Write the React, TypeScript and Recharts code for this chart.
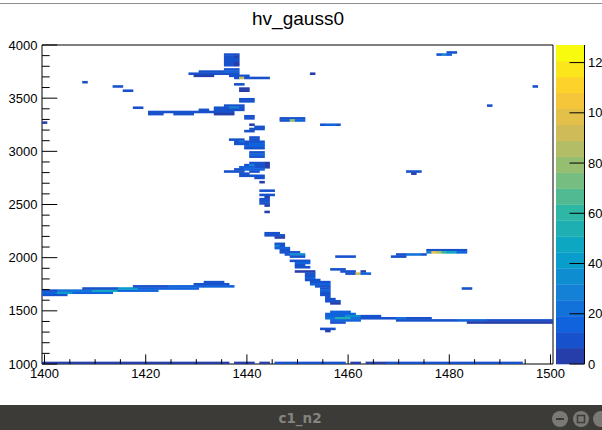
import React from 'react';
import { ScatterChart, Scatter, XAxis, YAxis, ReferenceArea } from 'recharts';

// ---------- layout / axis constants ----------
const W = 602;
const H = 430;
const PLOT = { left: 42, top: 45, right: 553, bottom: 364 };
const X_MIN = 1399.5;
const X_MAX = 1500.5;
const Y_MIN = 1000;
const Y_MAX = 4000;
const X_BIN = 1;
const Y_BIN = 20;
const Z_MAX = 127;
const N_LEVELS = 20;
const FONT = 'Liberation Sans, Arial, Helvetica, sans-serif';

// ---------- tick labels ----------
const X_TICKS = [1400, 1405, 1410, 1415, 1420, 1425, 1430, 1435, 1440, 1445, 1450, 1455, 1460, 1465, 1470, 1475, 1480, 1485, 1490, 1495, 1500];
const X_MAJOR = [1400, 1420, 1440, 1460, 1480, 1500];
const Y_TICKS = [1000, 1100, 1200, 1300, 1400, 1500, 1600, 1700, 1800, 1900, 2000, 2100, 2200, 2300, 2400, 2500, 2600, 2700, 2800, 2900, 3000, 3100, 3200, 3300, 3400, 3500, 3600, 3700, 3800, 3900, 4000];
const Y_MAJOR = [1000, 1500, 2000, 2500, 3000, 3500, 4000];
const Z_TICKS = [0, 20, 40, 60, 80, 100, 120];

// ---------- histogram cells: [yLowEdge, xFirstBin, xLastBin, content] ----------
const baseRow = [
  [1000, 1400, 1436, 6], [1000, 1438, 1441, 5], [1000, 1443, 1444, 4], [1000, 1446, 1459, 7],
  [1000, 1461, 1462, 4], [1000, 1464, 1467, 6], [1000, 1468, 1475, 12], [1000, 1476, 1494, 8],
];

const leftLine = [
  [1640, 1400, 1404, 7],
  [1660, 1400, 1402, 18], [1660, 1403, 1405, 40], [1660, 1406, 1413, 14],
  [1680, 1400, 1402, 10], [1680, 1403, 1409, 22], [1680, 1410, 1414, 45], [1680, 1415, 1422, 16],
  [1700, 1408, 1414, 10], [1700, 1415, 1418, 40], [1700, 1419, 1424, 18], [1700, 1425, 1430, 13],
  [1720, 1418, 1424, 8], [1720, 1425, 1431, 14], [1720, 1432, 1437, 13],
  [1740, 1430, 1436, 11],
  [1760, 1432, 1435, 7],
];

const topCluster = [
  [3900, 1436, 1438, 10],
  [3880, 1436, 1437, 7], [3880, 1438, 1438, 3],
  [3860, 1436, 1438, 10],
  [3840, 1436, 1438, 8],
  [3820, 1436, 1437, 12], [3820, 1438, 1438, 4],
  [3800, 1436, 1437, 9], [3800, 1438, 1438, 3],
  [3760, 1436, 1438, 12],
  [3740, 1431, 1435, 8], [3740, 1436, 1438, 14],
  [3720, 1429, 1438, 10],
  [3700, 1430, 1433, 6], [3700, 1437, 1440, 10],
  [3680, 1438, 1438, 8], [3680, 1439, 1439, 95], [3680, 1440, 1440, 12], [3680, 1441, 1444, 10],
  [3620, 1438, 1439, 7],
  [3580, 1439, 1440, 6],
  [3560, 1439, 1440, 5],
  [3480, 1439, 1441, 8],
  [3460, 1439, 1441, 10],
];

const midLine = [
  [3420, 1436, 1439, 8],
  [3400, 1434, 1436, 10], [3400, 1437, 1438, 30], [3400, 1439, 1439, 12],
  [3380, 1431, 1432, 8], [3380, 1434, 1439, 12],
  [3360, 1421, 1430, 9], [3360, 1431, 1437, 11],
  [3340, 1421, 1423, 7], [3340, 1426, 1429, 7], [3340, 1434, 1437, 6],
];

const ridge = [
  [3320, 1440, 1441, 7],
  [3300, 1440, 1441, 10],
  [3240, 1441, 1441, 6],
  [3220, 1442, 1443, 7],
  [3200, 1441, 1443, 10],
  [3180, 1440, 1441, 7],
  [3120, 1441, 1442, 8],
  [3100, 1437, 1439, 8], [3100, 1441, 1442, 10],
  [3080, 1438, 1438, 10], [3080, 1439, 1439, 25], [3080, 1440, 1440, 10], [3080, 1441, 1443, 12],
  [3060, 1438, 1440, 8], [3060, 1441, 1443, 14],
  [3040, 1440, 1443, 15],
  [3020, 1440, 1443, 12],
  [2980, 1441, 1443, 10],
  [2960, 1441, 1443, 15],
  [2940, 1441, 1443, 12],
  [2880, 1441, 1443, 12], [2880, 1444, 1444, 3],
  [2860, 1440, 1440, 10], [2860, 1441, 1441, 28], [2860, 1442, 1443, 12], [2860, 1444, 1444, 3],
  [2840, 1439, 1441, 15], [2840, 1442, 1443, 10], [2840, 1444, 1444, 3],
  [2820, 1438, 1439, 8], [2820, 1440, 1443, 14],
  [2800, 1436, 1439, 8], [2800, 1441, 1442, 10],
  [2780, 1439, 1440, 10],
  [2760, 1439, 1441, 8], [2760, 1442, 1443, 10],
  [2740, 1442, 1443, 8],
  [2700, 1443, 1443, 6],
  [2620, 1443, 1445, 8],
  [2580, 1443, 1445, 10],
  [2560, 1444, 1444, 6],
  [2540, 1443, 1444, 8],
  [2520, 1443, 1444, 10],
  [2500, 1443, 1444, 8],
  [2480, 1444, 1444, 5],
  [2420, 1444, 1444, 4],
];

const diagonal = [
  [2220, 1444, 1446, 10],
  [2200, 1444, 1447, 12],
  [2180, 1446, 1447, 6],
  [2120, 1446, 1447, 8],
  [2100, 1446, 1446, 30], [2100, 1447, 1447, 12],
  [2080, 1446, 1448, 14],
  [2060, 1447, 1448, 10],
  [2040, 1447, 1448, 12], [2040, 1449, 1450, 10],
  [2020, 1448, 1448, 12], [2020, 1449, 1451, 35],
  [2000, 1449, 1451, 10],
  [1960, 1449, 1452, 12],
  [1940, 1450, 1452, 15],
  [1920, 1450, 1451, 10],
  [1900, 1450, 1452, 8],
  [1860, 1450, 1453, 5],
  [1840, 1452, 1453, 12],
  [1820, 1452, 1453, 10],
  [1800, 1452, 1453, 15],
  [1780, 1452, 1454, 12],
  [1760, 1453, 1456, 12],
  [1740, 1453, 1456, 15],
  [1720, 1454, 1456, 10],
  [1700, 1455, 1456, 12],
  [1680, 1455, 1456, 15],
  [1660, 1455, 1456, 12],
  [1640, 1455, 1456, 10],
  [1620, 1456, 1456, 8],
  [1600, 1456, 1457, 10],
  [1580, 1456, 1458, 8],
  [1560, 1457, 1458, 6],
];

const lowerBlock = [
  [1480, 1457, 1460, 14],
  [1460, 1456, 1461, 16],
  [1440, 1456, 1459, 18], [1440, 1460, 1462, 32], [1440, 1463, 1466, 8],
  [1420, 1456, 1457, 20], [1420, 1458, 1460, 55], [1420, 1461, 1462, 22], [1420, 1463, 1469, 11],
  [1420, 1470, 1471, 20], [1420, 1472, 1476, 10],
  [1400, 1457, 1462, 14], [1400, 1470, 1481, 9], [1400, 1482, 1487, 16], [1400, 1488, 1500, 11],
  [1380, 1457, 1459, 8], [1380, 1484, 1500, 6],
  [1320, 1455, 1457, 8], [1300, 1456, 1456, 5],
];

const rightBranch = [
  [2060, 1476, 1483, 7],
  [2040, 1476, 1476, 30], [2040, 1477, 1477, 100], [2040, 1478, 1478, 85], [2040, 1479, 1479, 60],
  [2040, 1480, 1481, 45], [2040, 1482, 1483, 15],
  [2020, 1470, 1471, 10], [2020, 1472, 1474, 20], [2020, 1475, 1475, 12],
  [2000, 1469, 1471, 8],
  [2000, 1458, 1461, 10],
  [1880, 1457, 1459, 8],
  [1860, 1459, 1461, 10], [1860, 1463, 1463, 6],
  [1840, 1460, 1461, 12], [1840, 1462, 1462, 95], [1840, 1463, 1464, 14],
  [1700, 1483, 1484, 7],
];

const isolated = [
  [3920, 1480, 1481, 10], [3900, 1478, 1478, 12], [3900, 1479, 1479, 28], [3900, 1480, 1480, 15],
  [3720, 1453, 1453, 6],
  [3600, 1497, 1497, 8],
  [3420, 1488, 1488, 8],
  [3300, 1447, 1451, 8], [3280, 1447, 1448, 12], [3280, 1449, 1449, 80], [3280, 1450, 1451, 14],
  [3240, 1455, 1455, 8], [3240, 1456, 1457, 18], [3240, 1458, 1458, 8],
  [2800, 1472, 1474, 7], [2780, 1473, 1473, 5],
  [3640, 1408, 1408, 7], [3600, 1414, 1415, 8], [3560, 1416, 1417, 8], [3400, 1418, 1419, 8],
  [3260, 1400, 1400, 6],
];

const GROUPS = [baseRow, leftLine, topCluster, midLine, ridge, diagonal, lowerBlock, rightBranch, isolated];

// ---------- kBird palette ----------
const BIRD_STOPS = [0.0, 0.125, 0.25, 0.375, 0.5, 0.625, 0.75, 0.875, 1.0];
const BIRD_R = [0.2082, 0.0592, 0.078, 0.0232, 0.1802, 0.5301, 0.8186, 0.9956, 0.9764];
const BIRD_G = [0.1664, 0.3599, 0.5041, 0.6419, 0.7178, 0.7492, 0.7328, 0.7862, 0.9832];
const BIRD_B = [0.5293, 0.8684, 0.8385, 0.7914, 0.6425, 0.4662, 0.3499, 0.1968, 0.0539];

function bird(f: number) {
  const t = Math.max(0, Math.min(1, f));
  let i = 0;
  while (i < BIRD_STOPS.length - 2 && t > BIRD_STOPS[i + 1]) i++;
  const u = (t - BIRD_STOPS[i]) / (BIRD_STOPS[i + 1] - BIRD_STOPS[i]);
  const c = (a: number[]) => Math.round(255 * (a[i] + (a[i + 1] - a[i]) * u));
  return `rgb(${c(BIRD_R)},${c(BIRD_G)},${c(BIRD_B)})`;
}
const levelColor = (band: number) => bird((band + 0.99) / N_LEVELS);
function colorFor(v: number) {
  const band = Math.max(0, Math.min(N_LEVELS - 1, Math.floor(v / (Z_MAX / N_LEVELS))));
  return levelColor(band);
}

const KX = (PLOT.right - PLOT.left) / (X_MAX - X_MIN);
const KY = (PLOT.bottom - PLOT.top) / (Y_MAX - Y_MIN);
const SEAM = 0.45; // small overlap so adjacent bins join without hairline gaps

const toPoints = (runs: number[][]) =>
  runs.map(([y, x0, x1, v]) => ({ x: (x0 + x1) / 2, y: y + Y_BIN / 2, x0, x1, v }));

const CellRect = (props: any) => {
  const { cx, cy, payload } = props;
  if (cx == null || cy == null || !payload) return null;
  const w = (payload.x1 - payload.x0 + 1) * X_BIN * KX;
  const h = Y_BIN * KY;
  return (
    <rect
      x={cx - w / 2 - SEAM / 2}
      y={cy - h / 2 - SEAM / 2}
      width={w + SEAM}
      height={h + SEAM}
      fill={colorFor(payload.v)}
    />
  );
};

const XTick = (props: any) => {
  const { x, y, payload } = props;
  const major = X_MAJOR.includes(payload.value);
  return (
    <g>
      <line x1={x} x2={x} y1={y} y2={y - (major ? 9.6 : 4.8)} stroke="#000" strokeWidth={1} />
      {major && (
        <text x={x} y={y + 14} textAnchor="middle" fontSize={13} fontFamily={FONT} fill="#000">
          {payload.value}
        </text>
      )}
    </g>
  );
};

const YTick = (props: any) => {
  const { x, y, payload } = props;
  const major = Y_MAJOR.includes(payload.value);
  return (
    <g>
      <line x1={x} x2={x + (major ? 15.3 : 7.7)} y1={y} y2={y} stroke="#000" strokeWidth={1} />
      {major && (
        <text x={x - 4.5} y={y + 4.6} textAnchor="end" fontSize={13} fontFamily={FONT} fill="#000">
          {payload.value}
        </text>
      )}
    </g>
  );
};

const PAL = { left: 556, right: 584.5 };
const zy = (z: number) => PLOT.bottom - (z / Z_MAX) * (PLOT.bottom - PLOT.top);
const LEVELS = Array.from({ length: N_LEVELS }, (_, i) => i);

export default function App() {
  return (
    <div style={{ position: 'absolute', left: 0, top: 0, width: W, height: H, background: '#fff', overflow: 'hidden' }}>
      <ScatterChart width={W} height={H} margin={{ top: PLOT.top, right: W - PLOT.right, bottom: 0, left: 0 }}>
        {GROUPS.map((g, i) => (
          <Scatter key={i} data={toPoints(g)} shape={CellRect} isAnimationActive={false} />
        ))}
        <ReferenceArea x1={X_MIN} x2={X_MAX} y1={Y_MIN} y2={Y_MAX} fill="none" stroke="#000" strokeWidth={1} ifOverflow="visible" />
        <XAxis
          type="number"
          dataKey="x"
          domain={[X_MIN, X_MAX]}
          ticks={X_TICKS}
          interval={0}
          height={H - PLOT.bottom}
          tickLine={false}
          axisLine={false}
          tickSize={0}
          tickMargin={0}
          tick={<XTick />}
          allowDataOverflow
        />
        <YAxis
          type="number"
          dataKey="y"
          domain={[Y_MIN, Y_MAX]}
          ticks={Y_TICKS}
          interval={0}
          width={PLOT.left}
          tickLine={false}
          axisLine={false}
          tickSize={0}
          tickMargin={0}
          tick={<YTick />}
          allowDataOverflow
        />
      </ScatterChart>
      <svg width={W} height={H} style={{ position: 'absolute', left: 0, top: 0, pointerEvents: 'none' }}>
        <rect x={0} y={3} width={W} height={1} fill="#8e8e8e" />
        <text x={298} y={25} textAnchor="middle" fontSize={19} fontFamily={FONT} fill="#000">
          hv_gauss0
        </text>
        {LEVELS.map((i) => (
          <rect
            key={i}
            x={PAL.left}
            y={zy(((i + 1) * Z_MAX) / N_LEVELS)}
            width={PAL.right - PAL.left}
            height={zy((i * Z_MAX) / N_LEVELS) - zy(((i + 1) * Z_MAX) / N_LEVELS) + 0.3}
            fill={levelColor(i)}
          />
        ))}
        <line x1={PAL.right} x2={PAL.right} y1={PLOT.top} y2={PLOT.bottom} stroke="#000" strokeWidth={1} />
        {Z_TICKS.map((z) => (
          <g key={z}>
            <line x1={PAL.right - 15} x2={PAL.right} y1={zy(z)} y2={zy(z)} stroke="#000" strokeWidth={1} />
            <text x={PAL.right + 3.5} y={zy(z) + 4.6} fontSize={13} fontFamily={FONT} fill="#000">
              {z}
            </text>
          </g>
        ))}
        <rect x={0} y={405} width={W} height={H - 405} fill="#3c3b37" />
        <text x={300} y={423} textAnchor="middle" fontSize={13.5} fontWeight="bold" fontFamily="DejaVu Sans, sans-serif" fill="#85847f">
          c1_n2
        </text>
        <circle cx={560} cy={419} r={8} fill="#7a7975" />
        <line x1={556} x2={564} y1={419} y2={419} stroke="#3c3b37" strokeWidth={2} />
        <circle cx={581} cy={419} r={8} fill="#7a7975" />
        <rect x={577.5} y={415.5} width={7} height={7} fill="none" stroke="#3c3b37" strokeWidth={1.5} />
        <circle cx={601} cy={419} r={8} fill="#7a7975" />
      </svg>
    </div>
  );
}
